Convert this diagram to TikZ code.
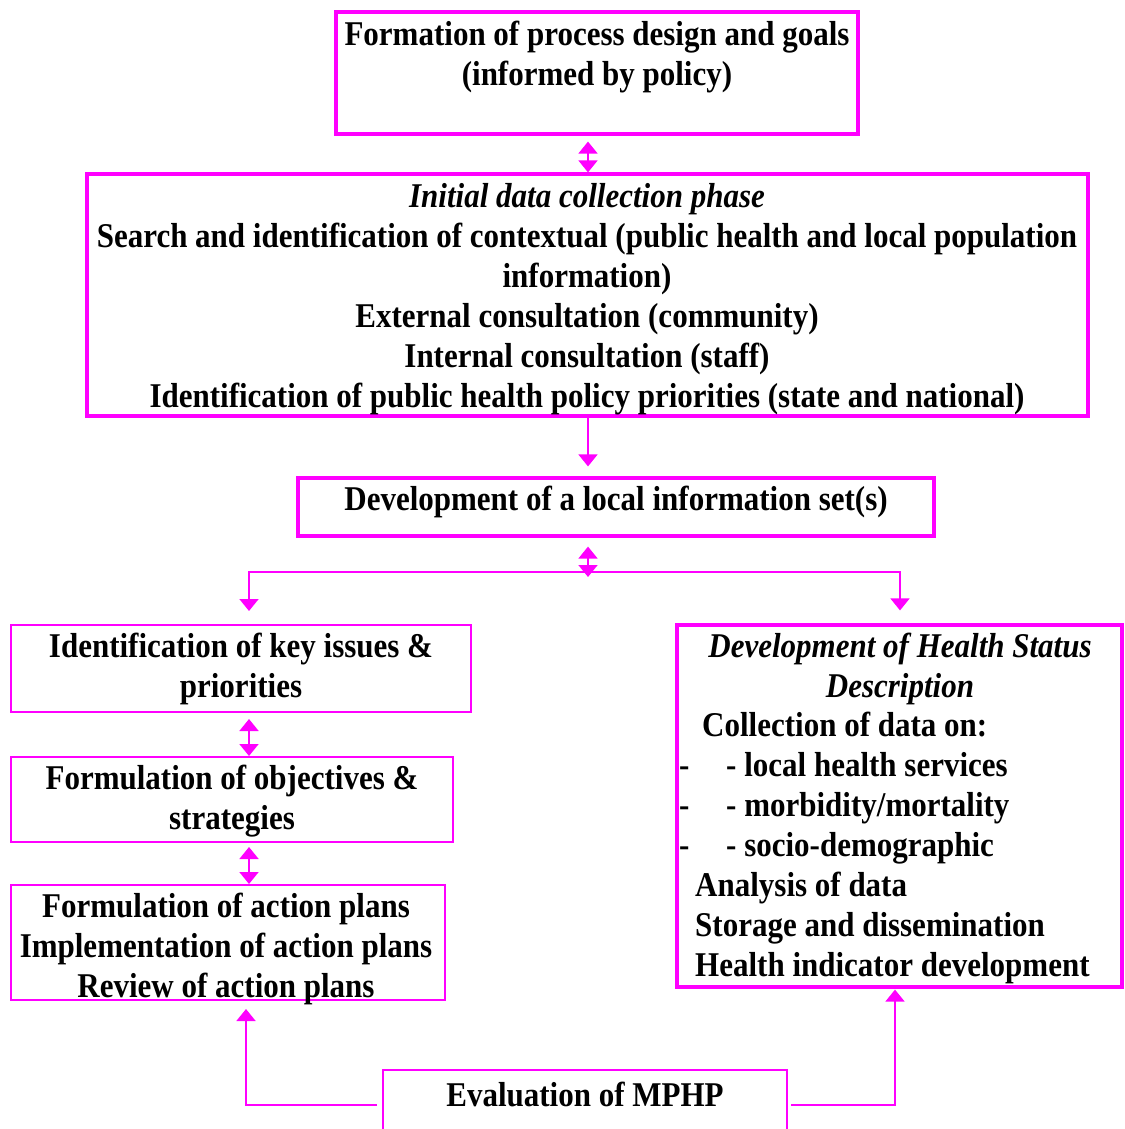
\documentclass[tikz,border=0pt]{standalone}
\usepackage{fontspec}
\setmainfont{Liberation Serif}
\usetikzlibrary{arrows.meta,calc}
\definecolor{mag}{RGB}{255,0,255}
\newcommand\diagfont{\bfseries\fontsize{31}{35.7}\selectfont}
\tikzset{
  thickbox/.style={draw=mag, line width=3.2pt, rectangle, inner sep=0pt},
  thinbox/.style={draw=mag, line width=2pt, rectangle, inner sep=0pt},
  txt/.style={font=\diagfont, align=center, inner sep=0pt, yscale=1.12},
  ltxt/.style={font=\diagfont, inner sep=0pt, yscale=1.12, anchor=base west},
  tipp/.tip={Triangle[width=19pt,length=12pt]},
  conn/.style={draw=mag, line width=1.8pt, -tipp},
  dconn/.style={draw=mag, line width=1.8pt, tipp-tipp},
}
\begin{document}
\begin{tikzpicture}[x=1pt,y=1pt]
\clip (0,0) rectangle (1124,-1129);
\fill[white] (0,0) rectangle (1124,-1129);
% boxes
\node[thickbox, minimum width=522pt, minimum height=122pt] (b1) at (597,-73) {};
\node[thickbox, minimum width=1001pt, minimum height=242pt] (b2) at (587.5,-295) {};
\node[thickbox, minimum width=636pt, minimum height=58pt] (b3) at (616,-507) {};
\node[thinbox, minimum width=460pt, minimum height=87pt] (A) at (241,-668.5) {};
\node[thinbox, minimum width=442pt, minimum height=85pt] (B) at (232,-799.5) {};
\node[thinbox, minimum width=434pt, minimum height=115pt] (C) at (228,-942.5) {};
\node[thickbox, minimum width=445pt, minimum height=362pt] (D) at (899.5,-806) {};
\node[thinbox, minimum width=404pt, minimum height=90pt] (E) at (585,-1115) {};
% texts
\node[txt] (t1) at (597,-57) {Formation of process design and goals\\(informed by policy)};
\node[txt] (t2) at (587,-299) {{\itshape Initial data collection phase}\\
Search and identification of contextual (public health and local population\\
information)\\
External consultation (community)\\
Internal consultation (staff)\\
Identification of public health policy priorities (state and national)};
\node[txt] (t3) at (616,-502) {Development of a local information set(s)};
\node[txt] (tA) at (241,-669) {Identification of key issues \&\\priorities};
\node[txt] (tB) at (232,-801) {Formulation of objectives \&\\strategies};
\node[txt] (tC) at (226,-949) {Formulation of action plans\\Implementation of action plans\\Review of action plans};
\node[txt] (tD) at (900,-669) {\itshape Development of Health Status\\\itshape Description};
\node[ltxt] (d1) at (702,-736) {Collection of data on:};
\node[ltxt] (d2a) at (679,-776) {-};
\node[ltxt] (d2) at (726,-776) {- local health services};
\node[ltxt] (d3a) at (679,-816) {-};
\node[ltxt] (d3) at (726,-816) {- morbidity/mortality};
\node[ltxt] (d4a) at (679,-856) {-};
\node[ltxt] (d4) at (726,-856) {- socio-demographic};
\node[ltxt] (d5) at (695,-896) {Analysis of data};
\node[ltxt] (d6) at (695,-936) {Storage and dissemination};
\node[ltxt] (d7) at (695,-976) {Health indicator development};
\node[txt] (tE) at (585,-1094) {Evaluation of MPHP};
% helper coordinates
\coordinate (cx) at (588,0);
\coordinate (lx) at (249,0);
\coordinate (rx) at (900,0);
\coordinate (hub) at (588,-572);
\coordinate (hubd) at (588,-577);
\coordinate (ey) at (0,-1105);
\coordinate (lx2) at (246,0);
\coordinate (rx2) at (895,0);
% connectors
\draw[dconn] ([yshift=-6pt]b1.south -| cx) -- (b2.north -| cx);
\draw[conn] (b2.south -| cx) -- ([yshift=10pt]b3.north -| cx);
\draw[dconn] ([yshift=-9pt]b3.south -| cx) -- (hubd);
\draw[dconn] ([yshift=13pt]A.north -| lx) |- (hub) -| ([yshift=13pt]D.north -| rx);
\draw[dconn] ([yshift=-6pt]A.south -| lx) -- (B.north -| lx);
\draw[dconn] ([yshift=-4pt]B.south -| lx) -- (C.north -| lx);
\draw[conn] ([xshift=-5pt]E.west |- ey) -| ([yshift=-8pt]C.south -| lx2);
\draw[conn] ([xshift=3pt]E.east |- ey) -| ([yshift=-1pt]D.south -| rx2);
\end{tikzpicture}
\end{document}
